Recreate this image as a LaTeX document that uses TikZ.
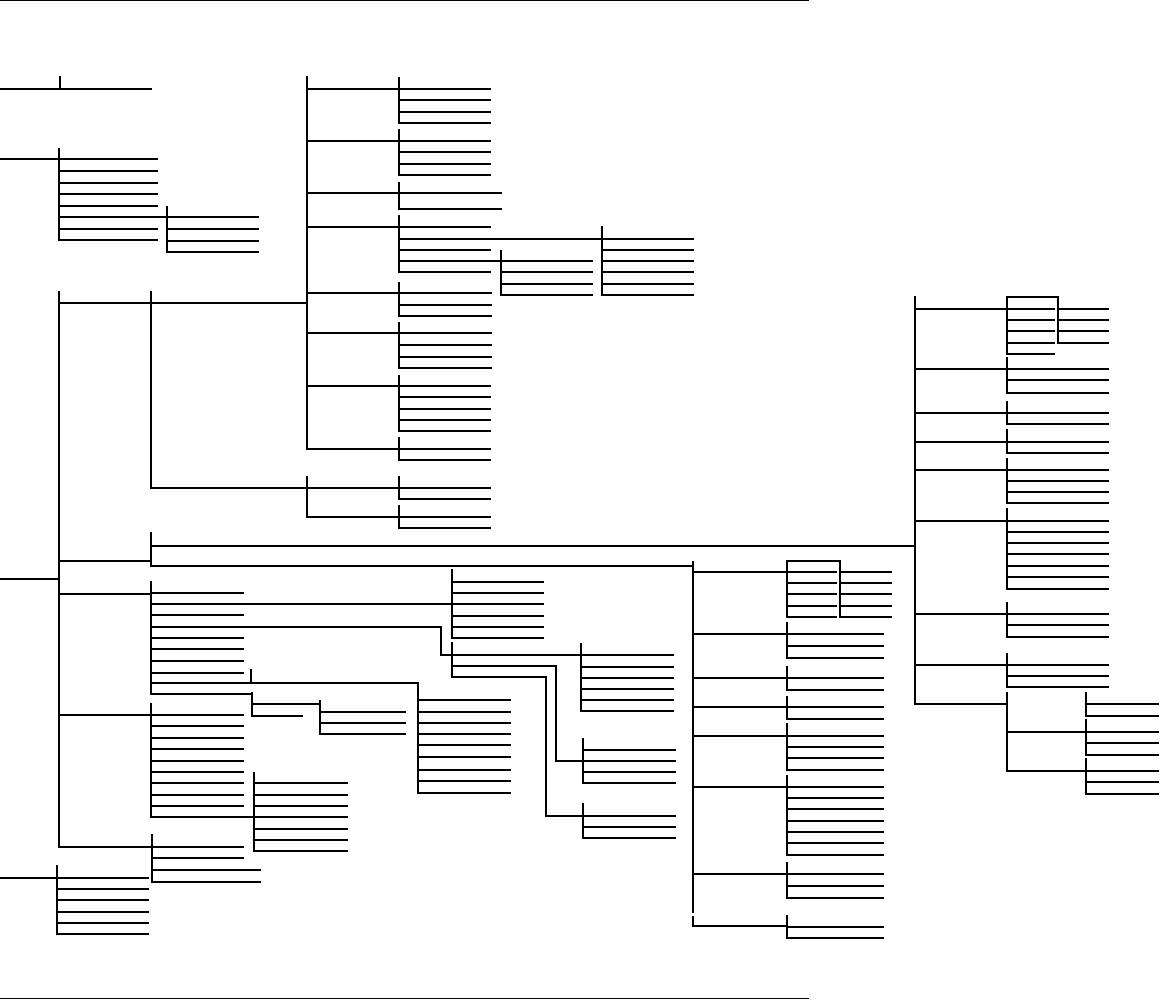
\documentclass[tikz,border=0pt]{standalone}
\begin{document}
\begin{tikzpicture}[x=1pt,y=-1pt,treeline/.style={line width=1.2pt,black,line cap=rect},every path/.style={treeline}]
\useasboundingbox (0,0) rectangle (1162,1003);
% x, ytop, ybottom, xend, child y list
\newcommand\dgrp[5]{\draw (#1,#2) -- (#1,#3); \foreach \yy in {#5} {\draw (#1,\yy) -- (#4,\yy);}}
% rules
\draw[line width=1pt] (0,1) -- (808,1);
\draw[line width=1pt] (0,998) -- (808,998);
% group A
\draw (0,89) -- (60,89); \dgrp{60}{77}{89}{151}{89}
% group B
\draw (0,159) -- (59,159); \dgrp{59}{149}{240}{157}{159,171,183,194,206,217,229,240}
\draw (59,217) -- (167,217); \dgrp{167}{207}{252}{258}{217,229,241,252}
% main root
\draw (0,579) -- (59,579); \draw (59,292) -- (59,847);
\draw (59,303) -- (151,303); \draw (59,561) -- (151,561); \draw (59,594) -- (151,594);
\draw (59,715) -- (151,715); \draw (59,847) -- (151,847);
% M1
\dgrp{151}{292}{488}{307}{303,488}
\dgrp{307}{77}{449}{399}{89,141,193,227,293,333,386,449}
\dgrp{399}{78}{123}{490}{89,100,112,123}
\dgrp{399}{130}{175}{490}{141,152,164,175}
\dgrp{399}{183}{209}{501}{193,209}
\dgrp{399}{216}{272}{490}{227,239,250,261,272}
\draw (399,239) -- (602,239); \draw (399,261) -- (501,261);
\dgrp{501}{251}{295}{592}{261,272,284,295}
\dgrp{602}{227}{295}{693}{239,250,261,272,284,295}
\dgrp{399}{283}{316}{491}{293,305,316}
\dgrp{399}{323}{368}{491}{333,345,357,368}
\dgrp{399}{376}{431}{490}{386,397,409,420,431}
\dgrp{399}{438}{460}{490}{449,460}
\dgrp{307}{477}{517}{399}{488,517}
\dgrp{399}{477}{499}{490}{488,499}
\dgrp{399}{506}{528}{490}{517,528}
% M2
\draw (151,533) -- (151,566); \draw (151,546) -- (915,546); \draw (151,566) -- (693,566);
% R subtree
\dgrp{915}{297}{704}{1007}{309,369,413,442,470,521,614,665,704}
\dgrp{1007}{297}{354}{1054}{309,320,331,343,354}
\draw (1007,297) -- (1058,297);
\dgrp{1058}{297}{343}{1108}{309,320,331,343}
\dgrp{1007}{358}{393}{1108}{369,380,393}
\dgrp{1007}{402}{424}{1108}{413,424}
\dgrp{1007}{430}{453}{1108}{442,453}
\dgrp{1007}{459}{503}{1108}{470,481,492,503}
\dgrp{1007}{509}{589}{1108}{521,532,543,554,566,577,589}
\dgrp{1007}{603}{637}{1108}{614,625,637}
\dgrp{1007}{654}{687}{1108}{665,676,687}
\draw (1007,693) -- (1007,771); \draw (1007,732) -- (1086,732); \draw (1007,771) -- (1086,771);
\dgrp{1086}{693}{716}{1158}{704,716}
\dgrp{1086}{720}{755}{1158}{732,743,755}
\dgrp{1086}{759}{794}{1158}{771,782,794}
% S subtree
\dgrp{693}{562}{912}{787}{572,634,678,707,736,787,874}
\draw (693,917) -- (693,926) -- (787,926);
\dgrp{787}{561}{617}{836}{572,583,594,606,617}
\draw (787,561) -- (840,561);
\dgrp{840}{561}{617}{891}{572,583,594,606,617}
\dgrp{787}{623}{658}{883}{634,646,658}
\dgrp{787}{667}{690}{883}{678,690}
\dgrp{787}{697}{719}{883}{707,719}
\dgrp{787}{724}{770}{883}{736,747,758,770}
\dgrp{787}{776}{855}{883}{787,798,809,821,832,843,855}
\dgrp{787}{863}{898}{883}{874,886,898}
\dgrp{787}{916}{938}{883}{927,938}
% M3
\dgrp{151}{582}{694}{243}{593,615,638,649,661,673}
\draw (151,604) -- (543,604);
\draw (151,627) -- (441,627) -- (441,655) -- (452,655);
\draw (251,670) -- (251,683); \draw (151,683) -- (418,683);
\draw (151,694) -- (252,694);
\dgrp{452}{570}{638}{543}{582,593,604,616,627,638}
\draw (452,643) -- (452,677);
\draw (452,655) -- (581,655);
\draw (452,666) -- (556,666) -- (556,761) -- (583,761);
\draw (452,677) -- (546,677) -- (546,816) -- (583,816);
\dgrp{581}{644}{711}{673}{655,667,678,689,700,711}
\dgrp{583}{739}{783}{675}{750,761,772,783}
\dgrp{583}{804}{838}{675}{816,827,838}
\dgrp{418}{683}{793}{510}{700,712,723,734,745,757,770,781,793}
\dgrp{252}{693}{716}{302}{704,716}
\draw (252,704) -- (320,704);
\dgrp{320}{701}{734}{405}{712,723,734}
% M4
\dgrp{151}{704}{817}{243}{715,726,738,749,761,772,783,795,806,817}
\draw (243,817) -- (254,817);
\dgrp{254}{773}{851}{347}{783,795,806,817,829,840,851}
% M5
\dgrp{152}{835}{882}{243}{847,858}
\draw (152,870) -- (260,870); \draw (152,882) -- (260,882);
% Z
\draw (0,878) -- (57,878);
\dgrp{57}{866}{934}{148}{878,889,900,912,923,934}
\end{tikzpicture}
\end{document}
